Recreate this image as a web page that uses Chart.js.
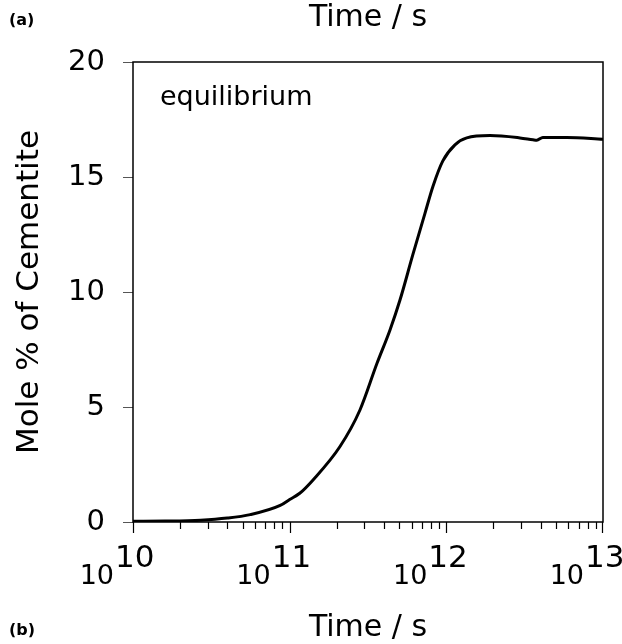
<!DOCTYPE html>
<html>
<head>
<meta charset="utf-8">
<script src="https://cdn.jsdelivr.net/npm/chart.js@4"></script>
<style>
  html, body { margin: 0; padding: 0; background: #fff; }
  #wrap { width: 622px; height: 644px; }
</style>
</head>
<body>
<div id="wrap"><canvas id="cementite"></canvas></div>
<script>
// tiempos (s) y % molar de cementita
const times = [1e10, 1.6e10, 2.7e10, 4e10, 5.6e10, 8.7e10, 1e11, 1.16e11, 1.41e11, 2.09e11,
  2.81e11, 3.61e11, 4.37e11, 5.06e11, 6.1e11, 7.29e11, 8.22e11, 9.5e11, 1.135e12, 1.35e12,
  1.9e12, 2.95e12, 3.57e12, 3.78e12, 4.13e12, 5.89e12, 1e13];
const molePct = [0.03, 0.04, 0.08, 0.17, 0.32, 0.72, 0.98, 1.25, 1.83, 3.27,
  4.87, 6.9, 8.35, 9.65, 11.6, 13.4, 14.6, 15.7, 16.4, 16.7,
  16.8, 16.7, 16.62, 16.6, 16.72, 16.72, 16.64];
const decades = [10, 11, 12, 13];
const yTicks = [0, 5, 10, 15, 20];

const FONT = "'DejaVu Sans', Verdana, sans-serif";

// marco, marcas del eje log y textos sueltos
const framePlugin = {
  id: 'frame',
  afterDraw(chart) {
    const { ctx, chartArea: a } = chart;
    const xs = chart.scales.x;
    ctx.save();
    ctx.strokeStyle = '#000';
    ctx.lineWidth = 1.5;
    ctx.strokeRect(a.left, a.top, a.right - a.left, a.bottom - a.top);

    // marcas menores y mayores
    ctx.lineWidth = 1.2;
    ctx.beginPath();
    for (let d = decades[0]; d < decades[decades.length - 1]; d++) {
      for (let k = 1; k <= 9; k++) {
        const px = Math.round(xs.getPixelForValue(k * Math.pow(10, d))) + 0.5;
        const len = k === 1 ? 11 : 7;
        ctx.moveTo(px, a.bottom);
        ctx.lineTo(px, a.bottom + len);
      }
    }
    const last = Math.round(xs.getPixelForValue(Math.pow(10, decades[decades.length - 1]))) - 0.5;
    ctx.moveTo(last, a.bottom);
    ctx.lineTo(last, a.bottom + 11);
    ctx.stroke();

    // etiquetas 10^n
    ctx.fillStyle = '#000';
    ctx.textBaseline = 'alphabetic';
    decades.forEach(d => {
      const px = xs.getPixelForValue(Math.pow(10, d));
      ctx.font = '27px ' + FONT;
      ctx.textAlign = 'right';
      ctx.fillText('10', px - 19, 584);
      ctx.font = '31px ' + FONT;
      ctx.textAlign = 'left';
      ctx.fillText(String(d), px - 18, 567);
    });

    ctx.font = '27px ' + FONT;
    ctx.textAlign = 'left';
    ctx.fillText('equilibrium', a.left + 27, 105);

    ctx.font = 'bold 16px ' + FONT;
    ctx.fillText('(a)', 9, 25);
    ctx.fillText('(b)', 9, 635);

    ctx.font = '30px ' + FONT;
    ctx.textAlign = 'center';
    ctx.fillText('Time / s', 368, 636);
    ctx.restore();
  }
};

new Chart(document.getElementById('cementite'), {
  type: 'line',
  data: {
    datasets: [{
      data: times.map((t, i) => ({ x: t, y: molePct[i] })),
      borderColor: '#000',
      borderWidth: 3,
      pointRadius: 0,
      cubicInterpolationMode: 'monotone',
      fill: false
    }]
  },
  options: {
    responsive: true,
    maintainAspectRatio: false,
    animation: false,
    layout: { padding: { top: 0, left: 0, right: 19, bottom: 0 } },
    plugins: {
      legend: { display: false },
      tooltip: { enabled: false },
      title: {
        display: true,
        fullSize: false,
        text: 'Time / s',
        color: '#000',
        font: { family: FONT, size: 30, weight: 'normal' },
        padding: { top: 0, bottom: 26 }
      }
    },
    scales: {
      x: {
        type: 'logarithmic',
        min: Math.pow(10, decades[0]),
        max: Math.pow(10, decades[decades.length - 1]),
        ticks: { display: false },
        grid: { display: false },
        border: { display: false },
        afterFit(scale) { scale.height = 122; }
      },
      y: {
        min: yTicks[0],
        max: yTicks[yTicks.length - 1],
        afterBuildTicks(scale) { scale.ticks = yTicks.map(v => ({ value: v })); },
        ticks: {
          color: '#000',
          padding: 18,
          font: { family: FONT, size: 29 }
        },
        grid: { drawOnChartArea: false, tickLength: 10, color: '#555', lineWidth: 1 },
        border: { display: false },
        title: {
          display: true,
          text: 'Mole % of Cementite',
          color: '#000',
          font: { family: FONT, size: 31 },
          padding: { top: 11, bottom: 0 }
        },
        afterFit(scale) { scale.width = 133; }
      }
    }
  },
  plugins: [framePlugin]
});
</script>
</body>
</html>
